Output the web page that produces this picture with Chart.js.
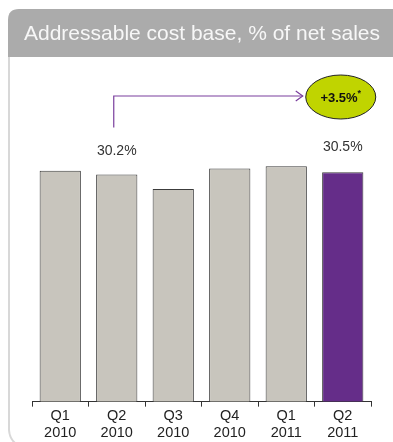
<!DOCTYPE html>
<html><head><meta charset="utf-8">
<script src="https://cdn.jsdelivr.net/npm/chart.js@4/dist/chart.umd.min.js"></script>
<style>html,body{margin:0;padding:0;background:#fff}#wrap{width:393px;height:442px;position:relative}</style>
</head><body><div id="wrap"><canvas id="c" width="393" height="442"></canvas></div>
<script>
const title = 'Addressable cost base, % of net sales';
const quarters = ['Q1','Q2','Q3','Q4','Q1','Q2'];
const years = ['2010','2010','2010','2010','2011','2011'];
const values = [30.7, 30.2, 28.3, 31.0, 31.3, 30.5];
const valueLabels = [null, '30.2%', null, null, null, '30.5%'];
const changeLabel = '+3.5%';
const changeNote = '*';

const FONT = '"Liberation Sans", Arial, sans-serif';
const barColors = values.map((v,i)=> i===values.length-1 ? '#652d89' : '#c8c5bd');

const deco = {
  id:'deco',
  beforeDraw(chart){
    const ctx = chart.ctx;
    ctx.save();
    ctx.fillStyle='#fff'; ctx.fillRect(0,0,chart.width,chart.height);
    // left panel border
    ctx.strokeStyle='#d8d8d8'; ctx.lineWidth=2;
    ctx.beginPath(); ctx.moveTo(9,50); ctx.lineTo(9,430); ctx.quadraticCurveTo(9.5,438,15,443); ctx.stroke();
    // header
    ctx.fillStyle='#ababab';
    ctx.beginPath(); const x0=8,y0=9,y1=57,r=11;
    ctx.moveTo(x0,y1); ctx.lineTo(x0,y0+r); ctx.quadraticCurveTo(x0,y0,x0+r,y0); ctx.lineTo(393,y0); ctx.lineTo(393,y1); ctx.closePath(); ctx.fill();
    ctx.fillStyle='#f7f7f7'; ctx.font='21px '+FONT; ctx.textBaseline='alphabetic'; ctx.textAlign='left';
    ctx.fillText(title,24,40);
    ctx.restore();
  },
  afterDatasetsDraw(chart){
    const ctx=chart.ctx; const meta=chart.getDatasetMeta(0);
    ctx.save();
    ctx.font='14px '+FONT; ctx.fillStyle='#333'; ctx.textAlign='center'; ctx.textBaseline='middle';
    meta.data.forEach((b,i)=>{ if(valueLabels[i]) ctx.fillText(valueLabels[i], b.x, b.y-23 - (i===5?2:0)); });
    const a=meta.data[1], e=meta.data[5];
    const ay=96, ex=e.x-2, ey=97;
    // arrow
    ctx.strokeStyle='#7a3e9d'; ctx.lineWidth=1.2;
    ctx.beginPath(); ctx.moveTo(a.x-3, a.y-47); ctx.lineTo(a.x-3, ay); ctx.lineTo(ex-38, ay); ctx.stroke();
    ctx.beginPath(); ctx.moveTo(ex-45, ay-5); ctx.lineTo(ex-38, ay); ctx.lineTo(ex-45, ay+5); ctx.stroke();
    // ellipse
    ctx.beginPath(); ctx.ellipse(ex, ey, 35, 22, 0, 0, Math.PI*2);
    ctx.fillStyle='#c0d400'; ctx.fill(); ctx.strokeStyle='#222'; ctx.lineWidth=1; ctx.stroke();
    ctx.fillStyle='#111'; ctx.font='bold 13px '+FONT; ctx.textAlign='left';
    const w=ctx.measureText(changeLabel).width; ctx.font='bold 9px '+FONT; const w2=ctx.measureText(changeNote).width;
    const sx=ex-(w+w2)/2;
    ctx.font='bold 13px '+FONT; ctx.fillText(changeLabel, sx, ey+1);
    ctx.font='bold 9px '+FONT; ctx.fillText(changeNote, sx+w, ey-3);
    ctx.restore();
  }
};

new Chart(document.getElementById('c'),{
  type:'bar',
  data:{labels:quarters.map((q,i)=>[q,years[i]]),datasets:[{data:values,backgroundColor:barColors,borderColor:'#3c3c3c',borderWidth:1,borderSkipped:'bottom',barPercentage:0.73,categoryPercentage:1}]},
  options:{
    responsive:false,animation:false,devicePixelRatio:1,
    layout:{padding:{left:32,right:22,top:131,bottom:0}},
    plugins:{legend:{display:false},tooltip:{enabled:false}},
    scales:{
      x:{grid:{offset:true,drawOnChartArea:false,tickLength:5,color:'#333',tickColor:'#333'},border:{color:'#333',width:1},
         ticks:{padding:1,color:'#222',font:{family:FONT,size:14.5,lineHeight:1.15},maxRotation:0}},
      y:{display:false,min:0,max:36}
    }
  },
  plugins:[deco]
});
</script></body></html>
